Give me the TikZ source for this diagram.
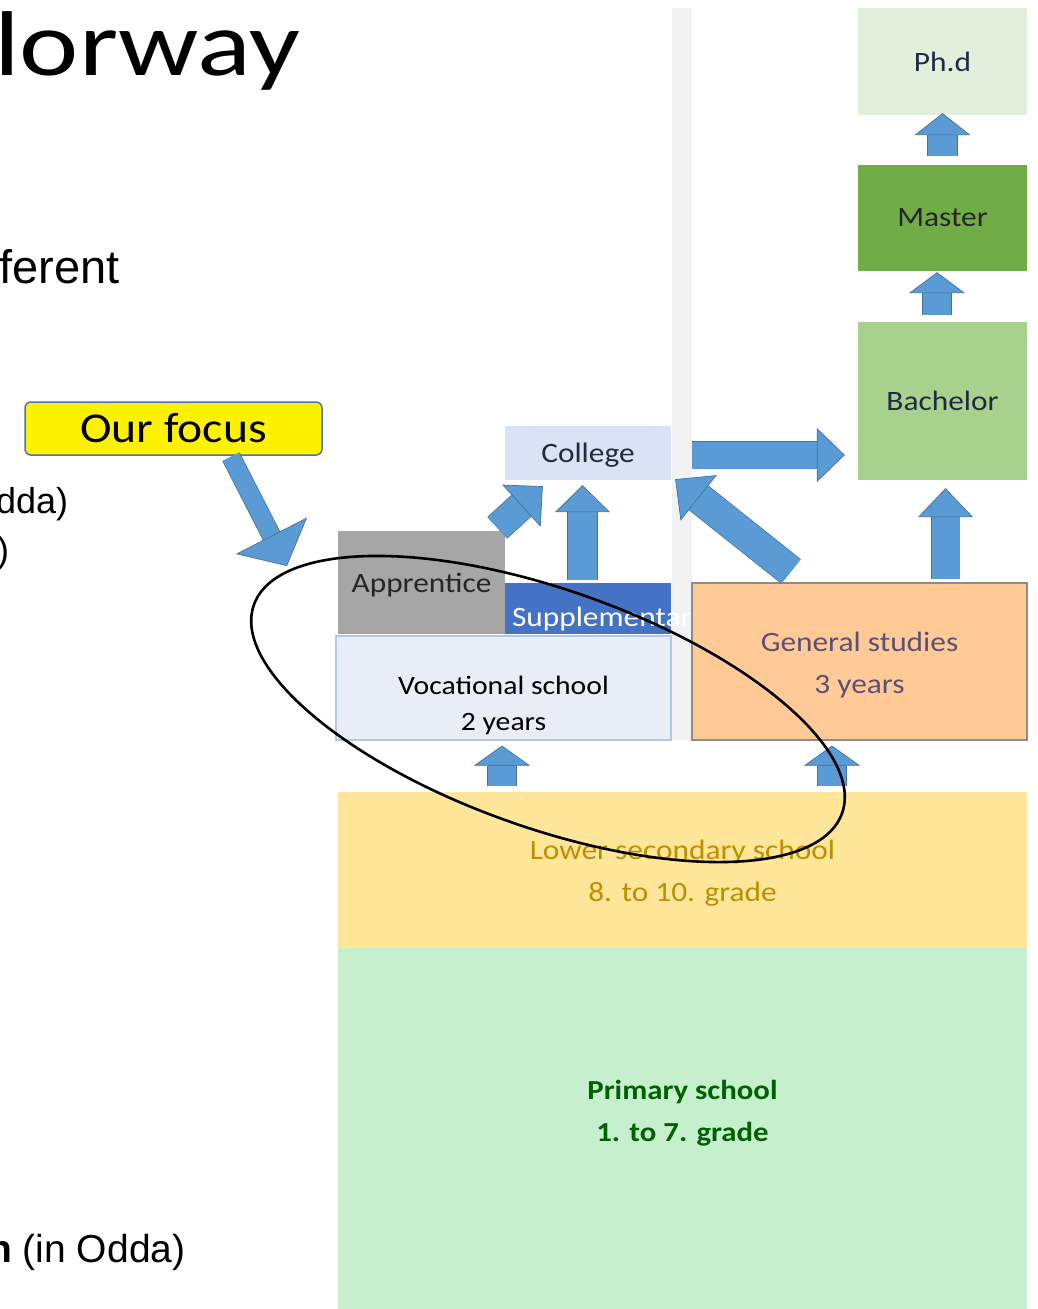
\documentclass[tikz,border=0pt]{standalone}
\usepackage{fontspec}
\setmainfont{Carlito}
\newfontfamily\slidefont{Carlito}[FakeStretch=1.12]
\newfontfamily\titlefont{Carlito}[FakeStretch=1.22]
\newfontfamily\arialfont{Liberation Sans}
\usetikzlibrary{positioning,arrows.meta}

\definecolor{arrowfill}{HTML}{5B9BD5}
\definecolor{arrowedge}{HTML}{41719C}
\definecolor{phdgreen}{HTML}{E2EFDA}
\definecolor{mastergreen}{HTML}{70AD47}
\definecolor{bachelorgreen}{HTML}{A9D18E}
\definecolor{collegeblue}{HTML}{DAE3F3}
\definecolor{apprenticegrey}{HTML}{A6A6A6}
\definecolor{supplblue}{HTML}{4472C4}
\definecolor{vocfill}{HTML}{E9EDF7}
\definecolor{vocedge}{HTML}{B4C7E7}
\definecolor{generalfill}{HTML}{FFCA96}
\definecolor{generaledge}{HTML}{8C8C8C}
\definecolor{generaltext}{HTML}{5A5078}
\definecolor{lowerfill}{HTML}{FFE699}
\definecolor{lowertext}{HTML}{BF8F00}
\definecolor{primaryfill}{HTML}{C6EFCE}
\definecolor{primarytext}{HTML}{006100}
\definecolor{barfill}{HTML}{F2F2F2}
\definecolor{focusedge}{HTML}{4F6FC0}
\definecolor{darktext}{HTML}{1F2A44}

\tikzset{
  stage/.style={rectangle, inner sep=0pt, align=center, text=darktext,
                font=\slidefont\fontsize{28}{42}\selectfont},
  blockarrow/.style n args={4}{draw=arrowfill, line width=#1,
      -{Triangle[width=#3, length=#4, line width=0.7pt, color=arrowedge, fill=arrowfill]},
      preaction={draw=arrowedge, line width=#2, arrows=-, shorten >=#4}},
  sidetext/.style={anchor=base west, inner sep=0pt, font=\arialfont\fontsize{36}{40}\selectfont},
}

\begin{document}
\begin{tikzpicture}[x=1pt, y=-1pt]
    \useasboundingbox (0,0) rectangle (1038,1309);
    \clip (0,0) rectangle (1038,1309);

    % Slide text cut at the left edge
    \node[anchor=base west, inner sep=0pt, font=\titlefont\fontsize{92}{100}\selectfont] (title) at (-6,75) {lorway};
    \node[sidetext, font=\arialfont\fontsize{47}{50}\selectfont] (ferent) at (-1,283) {ferent};
    \node[sidetext] (dda) at (-4,513) {dda)};
    \node[sidetext] (paren) at (-3,562) {)};
    \node[sidetext, font=\arialfont\fontsize{39}{42}\selectfont] (odda) at (-12,1262) {\textbf{n} (in Odda)};

    % Divider between vocational and general track
    \fill[barfill] (672,8) rectangle (692,740);

    % School stages
    \node[stage, fill=primaryfill, minimum width=689pt, minimum height=361pt,
          label={[stage, text=primarytext, font=\slidefont\bfseries\fontsize{27.5}{42}\selectfont, yshift=15pt]center:{Primary school\\1. to 7. grade}}]
          (primary) at (682.5,1128.5) {};
    \node[stage, fill=lowerfill, text=lowertext, minimum width=689pt, minimum height=156pt,
          label={[stage, text=lowertext, yshift=-3pt]center:{Lower secondary school\\8. to 10. grade}}]
          (lowersec) at (682.5,870) {};
    \node[stage, fill=vocfill, draw=vocedge, line width=1.2pt, minimum width=335pt, minimum height=104pt,
          label={[stage, text=black, font=\slidefont\fontsize{26.5}{36}\selectfont, yshift=-17pt]center:{Vocational school\\2 years}}]
          (vocational) at (503.5,688) {};
    \node[stage, fill=apprenticegrey, text=black!85, minimum width=167pt, minimum height=103pt,
          label={[stage, text=black!85, yshift=-3pt]center:Apprentice}] (apprentice) at (421.5,582.5) {};
    \node[stage, fill=supplblue, minimum width=166pt, minimum height=51pt,
          label={[stage, text=white, anchor=base west, xshift=7pt, yshift=-17.5pt]west:Supplementary}]
          (suppl) at (588,608.5) {};
    \node[stage, fill=collegeblue, minimum width=166pt, minimum height=54pt,
          label={[stage, yshift=-2pt]center:College}] (college) at (588,453) {};
    \node[stage, fill=generalfill, draw=generaledge, line width=1.2pt, minimum width=335pt, minimum height=157pt,
          label={[stage, text=generaltext, yshift=-4pt]center:{General studies\\3 years}}] (general) at (859.5,661.5) {};
    \node[stage, fill=bachelorgreen, minimum width=169pt, minimum height=158pt] (bachelor) at (942.5,401) {Bachelor};
    \node[stage, fill=mastergreen, text=black!85, minimum width=169pt, minimum height=106pt] (master) at (942.5,218) {Master};
    \node[stage, fill=phdgreen, minimum width=169pt, minimum height=107pt] (phd) at (942.5,61.5) {Ph.d};

    % Paths between stages
    \draw[blockarrow={28pt}{29.4pt}{56pt}{20pt}] ([xshift=-180.5pt,yshift=6pt]lowersec.north) -- ([xshift=-1.5pt,yshift=-5pt]vocational.south);
    \draw[blockarrow={28pt}{29.4pt}{56pt}{20pt}] ([xshift=149.5pt,yshift=6pt]lowersec.north) -- ([xshift=-27.5pt,yshift=-5pt]general.south);
    \draw[blockarrow={28pt}{29.4pt}{57pt}{29pt}] ([xshift=-8pt,yshift=3pt]apprentice.north east) -- ([xshift=38pt,yshift=-6pt]college.south west);
    \draw[blockarrow={29pt}{30.4pt}{55pt}{27pt}] ([xshift=-5.5pt,yshift=3pt]suppl.north) -- ([xshift=-5.5pt,yshift=-5pt]college.south);
    \draw[blockarrow={30pt}{31.4pt}{58pt}{30pt}] ([xshift=-68.5pt,yshift=11pt]general.north) -- ([xshift=4pt,yshift=1pt]college.south east);
    \draw[blockarrow={27pt}{28.4pt}{54pt}{28pt}] ([xshift=21pt,yshift=-2pt]college.east) -- ([xshift=-13pt,yshift=-54pt]bachelor.west);
    \draw[blockarrow={28pt}{29.4pt}{55pt}{29pt}] ([xshift=86pt,yshift=3pt]general.north) -- ([xshift=3pt,yshift=-8pt]bachelor.south);
    \draw[blockarrow={28pt}{29.4pt}{56pt}{21pt}] ([xshift=-5.5pt,yshift=7pt]bachelor.north) -- ([xshift=-5.5pt,yshift=-1pt]master.south);
    \draw[blockarrow={29pt}{30.4pt}{56pt}{22pt}] ([yshift=9pt]master.north) -- ([yshift=2pt]phd.south);

    % Callout
    \node[draw=focusedge, line width=1.5pt, fill=yellow, rounded corners=6pt, inner sep=0pt,
          minimum width=297pt, minimum height=53pt, font=\slidefont\fontsize{42.5}{50}\selectfont]
          (focus) at (173.5,428.5) {Our focus};
    \coordinate (focustip) at (287,566);
    \draw[blockarrow={18pt}{19.4pt}{80pt}{34pt}] ([xshift=57.5pt,yshift=-1pt]focus.south) -- (focustip);

    % Ring round the vocational track
    \draw[black, line width=2.6pt, shift={(548,709)}, rotate=-19.5] (0,0) ellipse [x radius=312pt, y radius=119pt];
\end{tikzpicture}
\end{document}
